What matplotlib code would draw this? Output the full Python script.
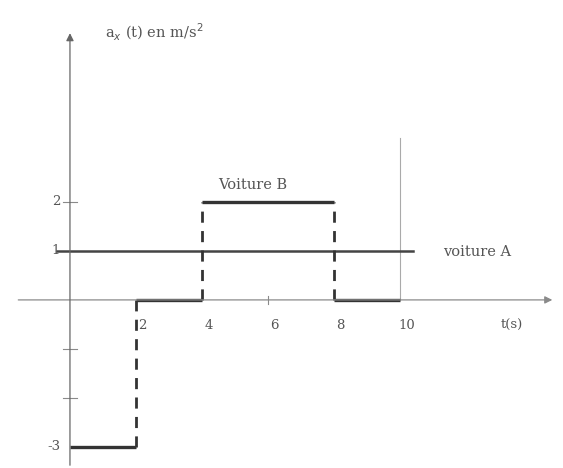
import matplotlib.pyplot as plt

# acceleration of the two cars, piecewise constant
t_edges = [0, 2, 4, 8, 10]
accel_b = [-3, 0, 2, 0]
accel_a = 1
t_span_a = [-0.4, 10.4]

x_ticks = [2, 4, 6, 8, 10]
y_ticks = [2, 1, -3]

INK = "#333333"
GREY = "#8a8a8a"
TXT = "#555555"

fig = plt.figure(figsize=(5.63, 4.68), dpi=100)
ax = fig.add_axes([0, 0, 1, 1])
ax.set_xlim(-2.12, 14.94)
ax.set_ylim(-3.43, 6.12)
ax.axis("off")

font = dict(family="DejaVu Serif", color=TXT, fontsize=10.5)
tick_font = dict(family="DejaVu Serif", color=TXT, fontsize=9.5)

# axes with arrows
ax.annotate("", xy=(14.7, 0), xytext=(-1.65, 0),
            arrowprops=dict(arrowstyle="-|>", color=GREY, lw=0.9, mutation_scale=11))
ax.annotate("", xy=(0, 5.5), xytext=(0, -3.43),
            arrowprops=dict(arrowstyle="-|>", color="#666666", lw=0.9, mutation_scale=11))

# small tick marks on the axes
for y in [2, -1, -2]:
    ax.plot([-0.2, 0.2], [y, y], color=GREY, lw=0.8)
for t in [6]:
    ax.plot([t, t], [-0.08, 0.08], color=GREY, lw=0.8)

# thin marker line at t = 10
ax.plot([10, 10], [0, 3.3], color="#aaaaaa", lw=0.8)

# car A: constant acceleration
ax.plot(t_span_a, [accel_a, accel_a], color="#444444", lw=1.8)

# car B: steps joined by dashed risers
for i, a in enumerate(accel_b):
    ax.plot([t_edges[i], t_edges[i + 1]], [a, a], color=INK, lw=2.4,
            solid_capstyle="butt")
for i in range(1, len(accel_b)):
    lo, hi = sorted([accel_b[i - 1], accel_b[i]])
    ax.plot([t_edges[i], t_edges[i]], [lo, hi], color=INK, lw=2.0,
            linestyle=(0, (4, 3)))

# labels
for t in x_ticks:
    ax.text(t + 0.2, -0.52, str(t), ha="center", va="center", **tick_font)
ax.text(13.4, -0.52, "t(s)", ha="center", va="center", **tick_font)
for y in y_ticks:
    ax.text(-0.3, y, str(y), ha="right", va="center", **tick_font)
ax.text(1.05, 5.45, r"a$_x$ (t) en m/s$^2$", ha="left", va="center", **font)
ax.text(4.48, 2.35, "Voiture B", ha="left", va="center", **font)
ax.text(11.3, 0.97, "voiture A", ha="left", va="center", **font)

fig.savefig("out.png", dpi=100)
